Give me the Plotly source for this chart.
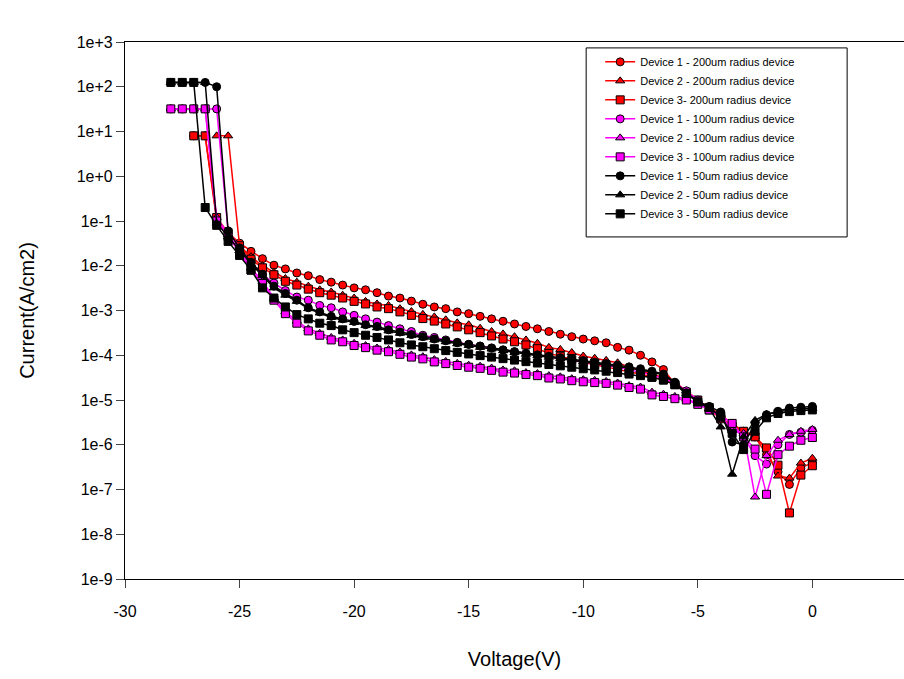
import plotly.graph_objects as go

voltage = [-28.0, -27.5, -27.0, -26.5, -26.0, -25.5, -25.0, -24.5, -24.0, -23.5,
           -23.0, -22.5, -22.0, -21.5, -21.0, -20.5, -20.0, -19.5, -19.0, -18.5,
           -18.0, -17.5, -17.0, -16.5, -16.0, -15.5, -15.0, -14.5, -14.0, -13.5,
           -13.0, -12.5, -12.0, -11.5, -11.0, -10.5, -10.0, -9.5, -9.0, -8.5,
           -8.0, -7.5, -7.0, -6.5, -6.0, -5.5, -5.0, -4.5, -4.0, -3.5,
           -3.0, -2.5, -2.0, -1.5, -1.0, -0.5, 0.0]

d1_200 = [None, None, 8, 8, 0.1, 0.055, 0.032, 0.021, 0.0144, 0.0103,
          0.0085, 0.0069, 0.006, 0.0049, 0.0043, 0.0037, 0.0032, 0.0029, 0.0025, 0.0021,
          0.0019, 0.00162, 0.00138, 0.0012, 0.0011, 9.3e-4, 8.5e-4, 7.4e-4, 6.5e-4, 5.75e-4,
          5.0e-4, 4.4e-4, 3.9e-4, 3.4e-4, 2.95e-4, 2.6e-4, 2.3e-4, 2.1e-4, 1.9e-4, 1.5e-4,
          1.3e-4, 1.0e-4, 7.1e-5, 4.8e-5, 2.3e-5, 1.5e-5, 9.5e-6, 7e-6, 4.5e-6, 3e-6,
          2e-6, 1.5e-6, 6e-7, 2.5e-7, 1.3e-7, 3e-7, 4e-7]
d2_200 = [None, None, None, None, 8, 8, 0.028, 0.016, 0.01, 0.0072,
          0.0052, 0.0043, 0.0035, 0.0029, 0.0026, 0.0022, 0.0019, 0.0016, 0.0014, 0.0013,
          0.0011, 9.5e-4, 8.2e-4, 7.2e-4, 6.2e-4, 5.3e-4, 4.8e-4, 4.0e-4, 3.4e-4, 3.0e-4,
          2.6e-4, 2.2e-4, 1.85e-4, 1.5e-4, 1.35e-4, 1.15e-4, 9.6e-5, 8.6e-5, 7.7e-5, 6.8e-5,
          5.5e-5, 4.5e-5, 3.8e-5, 3.2e-5, 2.5e-5, 1.6e-5, 1e-5, 6.5e-6, 4e-6, 2.7e-6,
          2e-6, 1.5e-6, 8e-7, 2e-7, 1.8e-7, 3.9e-7, 5e-7]
d3_200 = [None, None, 8, 8, 0.12, 0.055, 0.028, 0.014, 0.009, 0.0063,
          0.0045, 0.0037, 0.003, 0.0025, 0.0022, 0.0019, 0.0016, 0.0014, 0.0012, 0.0011,
          9.3e-4, 7.8e-4, 6.6e-4, 5.8e-4, 5.0e-4, 4.3e-4, 3.7e-4, 3.2e-4, 2.7e-4, 2.3e-4,
          2.0e-4, 1.7e-4, 1.4e-4, 1.1e-4, 9.5e-5, 8e-5, 6.8e-5, 6.2e-5, 5.4e-5, 4.9e-5,
          4.2e-5, 3.8e-5, 3.3e-5, 2.8e-5, 2.2e-5, 1.5e-5, 1e-5, 6e-6, 3.8e-6, 2.5e-6,
          2e-6, 1.5e-6, 8.5e-7, 3.5e-7, 3e-8, 2.1e-7, 3.4e-7]

d1_100 = [32, 32, 32, 32, 32, 0.06, 0.025, 0.011, 0.0063, 0.0041,
          0.0028, 0.002, 0.0017, 0.0013, 0.00115, 9.3e-4, 7.8e-4, 6.5e-4, 5.5e-4, 4.6e-4,
          3.9e-4, 3.4e-4, 2.8e-4, 2.5e-4, 2.2e-4, 1.95e-4, 1.75e-4, 1.6e-4, 1.45e-4, 1.3e-4,
          1.2e-4, 1.1e-4, 1.0e-4, 9.2e-5, 8.5e-5, 7.8e-5, 7.2e-5, 6.6e-5, 6e-5, 5.4e-5,
          4.8e-5, 4.2e-5, 3.6e-5, 3e-5, 2.4e-5, 1.6e-5, 1e-5, 6.5e-6, 4e-6, 2.5e-6,
          1.5e-6, 5.7e-7, 3.7e-7, 1e-6, 1.7e-6, 1.9e-6, 2.1e-6]
d2_100 = [32, 32, 32, 32, 0.12, 0.05, 0.022, 0.009, 0.0045, 0.0019,
          9.5e-4, 5.8e-4, 3.9e-4, 3.1e-4, 2.5e-4, 2.2e-4, 1.85e-4, 1.65e-4, 1.45e-4, 1.35e-4,
          1.18e-4, 1.02e-4, 9.3e-5, 8e-5, 7.3e-5, 6.6e-5, 6.0e-5, 5.7e-5, 5.2e-5, 4.7e-5,
          4.5e-5, 4.1e-5, 3.9e-5, 3.5e-5, 3.3e-5, 3.0e-5, 2.85e-5, 2.75e-5, 2.6e-5, 2.4e-5,
          2.1e-5, 1.95e-5, 1.5e-5, 1.35e-5, 1.2e-5, 1.05e-5, 8.5e-6, 6.2e-6, 4.6e-6, 2.1e-6,
          1.8e-6, 6.8e-8, 5.7e-7, 1.26e-6, 1.7e-6, 2e-6, 2.2e-6]
d3_100 = [32, 32, 32, 32, 0.1, 0.045, 0.02, 0.008, 0.004, 0.0017,
          8.5e-4, 5.2e-4, 3.5e-4, 2.8e-4, 2.2e-4, 2.0e-4, 1.65e-4, 1.48e-4, 1.3e-4, 1.2e-4,
          1.05e-4, 9.1e-5, 8.3e-5, 7.1e-5, 6.5e-5, 5.9e-5, 5.4e-5, 5.1e-5, 4.6e-5, 4.2e-5,
          4.0e-5, 3.7e-5, 3.5e-5, 3.1e-5, 2.95e-5, 2.7e-5, 2.55e-5, 2.45e-5, 2.35e-5, 2.15e-5,
          1.9e-5, 1.75e-5, 1.3e-5, 1.2e-5, 1.07e-5, 1e-5, 8e-6, 6e-6, 4.5e-6, 3e-6,
          1.5e-6, 8e-7, 7.8e-8, 6e-7, 9.3e-7, 1.26e-6, 1.45e-6]

d1_50 = [125, 125, 125, 125, 100, 0.06, 0.025, 0.012, 0.0065, 0.0035,
         0.0024, 0.0017, 0.00115, 9.3e-4, 7.4e-4, 6.5e-4, 5.7e-4, 4.8e-4, 4.4e-4, 3.7e-4,
         3.3e-4, 2.9e-4, 2.6e-4, 2.3e-4, 2.1e-4, 1.9e-4, 1.75e-4, 1.6e-4, 1.45e-4, 1.32e-4,
         1.2e-4, 1.1e-4, 1.02e-4, 9.5e-5, 8.8e-5, 8.2e-5, 7.6e-5, 7e-5, 6.5e-5, 6e-5,
         5.5e-5, 5e-5, 4.4e-5, 3.8e-5, 2.5e-5, 1.45e-5, 9.3e-6, 7.2e-6, 5.4e-6, 1.15e-6,
         1.0e-6, 3e-6, 4.7e-6, 5.6e-6, 6.6e-6, 6.9e-6, 7.2e-6]
d2_50 = [125, 125, 125, 125, 0.09, 0.045, 0.022, 0.011, 0.006, 0.0032,
         0.0022, 0.0016, 0.0011, 8.8e-4, 7.0e-4, 6.1e-4, 5.4e-4, 4.6e-4, 4.1e-4, 3.5e-4,
         3.1e-4, 2.75e-4, 2.45e-4, 2.2e-4, 2.0e-4, 1.8e-4, 1.65e-4, 1.5e-4, 1.38e-4, 1.26e-4,
         1.15e-4, 1.05e-4, 9.7e-5, 9.0e-5, 8.4e-5, 7.8e-5, 7.2e-5, 6.7e-5, 6.2e-5, 5.7e-5,
         5.2e-5, 4.7e-5, 4.2e-5, 3.6e-5, 2.4e-5, 1.4e-5, 9e-6, 6.5e-6, 2.5e-6, 2.2e-7,
         1.5e-6, 3.5e-6, 4.8e-6, 5.5e-6, 6e-6, 6.3e-6, 6.5e-6]
d3_50 = [125, 125, 125, 0.2, 0.08, 0.035, 0.017, 0.008, 0.0032, 0.0019,
         0.0012, 8.1e-4, 6.5e-4, 5.2e-4, 4.6e-4, 3.7e-4, 3.2e-4, 2.8e-4, 2.5e-4, 2.2e-4,
         1.9e-4, 1.7e-4, 1.55e-4, 1.4e-4, 1.27e-4, 1.16e-4, 1.07e-4, 9.8e-5, 9.1e-5, 8.4e-5,
         7.8e-5, 7.2e-5, 6.7e-5, 6.2e-5, 5.8e-5, 5.4e-5, 5.0e-5, 4.7e-5, 4.4e-5, 4.1e-5,
         3.8e-5, 3.5e-5, 3.2e-5, 2.8e-5, 2.2e-5, 1.4e-5, 9e-6, 6.8e-6, 4.2e-6, 1.8e-6,
         7.8e-7, 2e-6, 4e-6, 5e-6, 5.5e-6, 5.8e-6, 6e-6]

series_names = ["Device 1 - 200um radius device", "Device 2 - 200um radius device",
                "Device 3- 200um radius device", "Device 1 - 100um radius device",
                "Device 2 - 100um radius device", "Device 3 - 100um radius device",
                "Device 1 - 50um radius device", "Device 2 - 50um radius device",
                "Device 3 - 50um radius device"]
series_values = [d1_200, d2_200, d3_200, d1_100, d2_100, d3_100, d1_50, d2_50, d3_50]
series_colors = ["#FF0000", "#FF0000", "#FF0000", "#FF00FF", "#FF00FF", "#FF00FF",
                 "#000000", "#000000", "#000000"]
series_symbols = ["circle", "triangle-up", "square"] * 3

ytick_vals = [1e-9, 1e-8, 1e-7, 1e-6, 1e-5, 1e-4, 1e-3, 1e-2, 1e-1, 1e0, 1e1, 1e2, 1e3]
ytick_text = ["1e-9", "1e-8", "1e-7", "1e-6", "1e-5", "1e-4", "1e-3", "1e-2", "1e-1",
              "1e+0", "1e+1", "1e+2", "1e+3"]
xtick_vals = [-30, -25, -20, -15, -10, -5, 0]
xtick_text = ["-30", "-25", "-20", "-15", "-10", "-5", "0"]

fig = go.Figure()
for name, vals, col, sym in zip(series_names, series_values, series_colors, series_symbols):
    fig.add_trace(go.Scatter(
        x=voltage, y=vals, name=name, mode="lines+markers",
        line=dict(color=col, width=1.5),
        marker=dict(symbol=sym, size=8, color=col, line=dict(color="black", width=1)),
    ))

font_family = "Liberation Sans, Arial, sans-serif"
fig.update_layout(
    width=904, height=679,
    margin=dict(l=125, r=0, t=42, b=100),
    paper_bgcolor="white", plot_bgcolor="white",
    font=dict(family=font_family, color="black"),
    showlegend=True,
    legend=dict(x=0.61, y=0.99, xanchor="left", yanchor="top",
                bgcolor="rgba(0,0,0,0)", borderwidth=0,
                font=dict(size=11, family=font_family), itemwidth=30,
                tracegroupgap=0),
    shapes=[dict(type="rect", xref="paper", yref="paper",
                 x0=0.592, x1=0.927, y0=0.637, y1=0.989,
                 line=dict(color="black", width=1), fillcolor="white", layer="below")],
)
fig.update_xaxes(range=[-30, 4], tickvals=xtick_vals, ticktext=xtick_text,
                 ticks="outside", ticklen=8,
                 showline=True, linecolor="black", linewidth=1.2, mirror=True,
                 showgrid=False, zeroline=False, tickfont=dict(size=16),
                 ticklabelstandoff=10,
                 title=dict(text="Voltage(V)", font=dict(size=20), standoff=32))
fig.update_yaxes(type="log", range=[-9, 3], tickvals=ytick_vals, ticktext=ytick_text,
                 ticks="outside", ticklen=8, showline=True, linecolor="black",
                 linewidth=1.2, mirror=False, showgrid=False, zeroline=False,
                 tickfont=dict(size=16),
                 title=dict(text="Current(A/cm2)", font=dict(size=20), standoff=36))

fig.write_html("out.html")
